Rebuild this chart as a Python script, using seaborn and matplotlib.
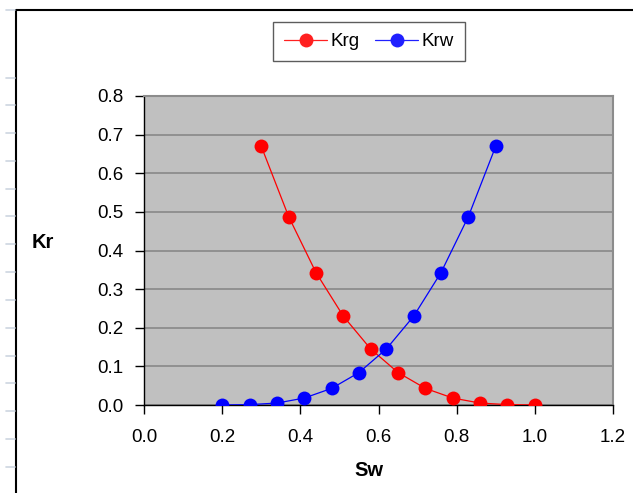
import numpy as np
import pandas as pd
import matplotlib
matplotlib.use("Agg")
import matplotlib.pyplot as plt
from matplotlib.lines import Line2D
import seaborn as sns

# Relative permeability data
sw_gas = [0.30, 0.37, 0.44, 0.51, 0.58, 0.65, 0.72, 0.79, 0.86, 0.93, 1.00]
krg = [0.670, 0.488, 0.343, 0.230, 0.145, 0.084, 0.043, 0.018, 0.005, 0.001, 0.0]
sw_water = [0.20, 0.27, 0.34, 0.41, 0.48, 0.55, 0.62, 0.69, 0.76, 0.83, 0.90]
krw = [0.0, 0.001, 0.005, 0.018, 0.043, 0.084, 0.145, 0.230, 0.343, 0.488, 0.670]

x_ticks = [0.0, 0.2, 0.4, 0.6, 0.8, 1.0, 1.2]
y_ticks = [0.0, 0.1, 0.2, 0.3, 0.4, 0.5, 0.6, 0.7, 0.8]

df = pd.concat([
    pd.DataFrame({"Sw": sw_gas, "Kr": krg, "curve": "Krg"}),
    pd.DataFrame({"Sw": sw_water, "Kr": krw, "curve": "Krw"}),
], ignore_index=True)

sns.set_style("white")
plt.rcParams["font.family"] = ["Liberation Sans", "DejaVu Sans"]
plt.rcParams["text.color"] = "black"
plt.rcParams["xtick.color"] = "black"
plt.rcParams["ytick.color"] = "black"
plt.rcParams["xtick.labelcolor"] = "black"
plt.rcParams["ytick.labelcolor"] = "black"

W, H = 633, 493
fig = plt.figure(figsize=(W / 100, H / 100), dpi=100)
ax = fig.add_axes([144 / W, 1 - 405 / H, (613 - 144) / W, (405 - 96) / H])
ax.set_facecolor("#c0c0c0")

sns.lineplot(data=df, x="Sw", y="Kr", hue="curve", palette={"Krg": "#ff0000", "Krw": "#0000ff"},
             marker="o", markersize=10, markeredgewidth=0, linewidth=0.9,
             sort=False, estimator=None, ax=ax, legend=False, zorder=3)

ax.set_xlim(0, 1.2)
ax.set_ylim(0, 0.8)
ax.set_xticks(x_ticks)
ax.set_yticks(y_ticks)
ax.set_xticklabels([f"{v:.1f}" for v in x_ticks])
ax.set_yticklabels([f"{v:.1f}" for v in y_ticks])
ax.tick_params(axis="both", labelsize=13.5, length=6.5, width=1, color="black",
               labelcolor="black", direction="out", bottom=True, left=True)
ax.tick_params(axis="y", pad=8)
ax.tick_params(axis="x", pad=11)
ax.yaxis.grid(True, color="#8c8c8c", linewidth=1.3)
ax.xaxis.grid(False)
ax.set_axisbelow(True)
for side in ("left", "bottom"):
    ax.spines[side].set_color("#000000")
    ax.spines[side].set_linewidth(1)
for side in ("top", "right"):
    ax.spines[side].set_visible(True)
    ax.spines[side].set_color("#8c8c8c")
    ax.spines[side].set_linewidth(1.5)

ax.set_xlabel("")
ax.set_ylabel("")
fig.text(369 / W, 1 - 470 / H, "Sw", fontsize=14.5, fontweight="bold", color="black",
         ha="center", va="center")
fig.text(43 / W, 1 - 243 / H, "Kr", fontsize=14.5, fontweight="bold", color="black",
         ha="center", va="center")

handles = [
    Line2D([], [], color="#ff2020", marker="o", markersize=10, markeredgewidth=0, linewidth=0.9),
    Line2D([], [], color="#2020ff", marker="o", markersize=10, markeredgewidth=0, linewidth=0.9),
]
leg = fig.legend(handles, ["Krg", "Krw"], loc="center", bbox_to_anchor=(369 / W, 1 - 41.5 / H),
                 ncol=2, fontsize=13.5, frameon=True, fancybox=False, handlelength=2.3,
                 handletextpad=0.2, columnspacing=0.8, borderpad=0.6, labelcolor="black")
leg.get_frame().set_edgecolor("#333333")
leg.get_frame().set_linewidth(1)

# Sheet frame and row marks along the left edge
fig.add_artist(Line2D([16 / W, 16 / W], [0, 1 - 10 / H], color="black", linewidth=1.5,
                      transform=fig.transFigure))
fig.add_artist(Line2D([16 / W, 1], [1 - 10 / H, 1 - 10 / H], color="black", linewidth=1.5,
                      transform=fig.transFigure))
for yy in [10] + [77.5 + 27.8 * k for k in range(15)]:
    fig.add_artist(Line2D([6 / W, 15 / W], [1 - yy / H, 1 - yy / H], color="#cdd5e0",
                          linewidth=1.2, transform=fig.transFigure))

fig.savefig("out.png", dpi=100)
